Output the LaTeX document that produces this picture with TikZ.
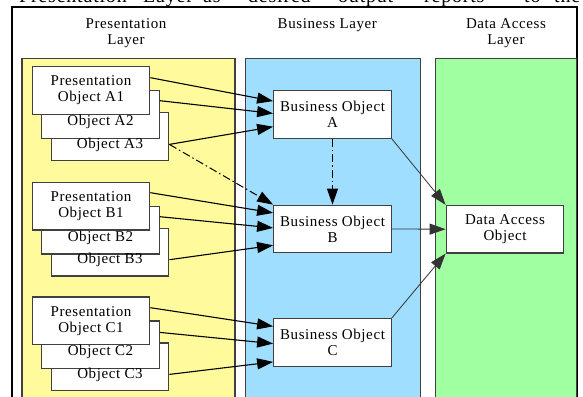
\documentclass[tikz,border=0pt]{standalone}
\usepackage{fontspec}
\setmainfont{Liberation Serif}[LetterSpace=4]
\usetikzlibrary{arrows.meta}
\definecolor{ylw}{RGB}{255,250,155}
\definecolor{blu}{RGB}{160,222,255}
\definecolor{grn}{RGB}{160,255,160}
\definecolor{edgec}{RGB}{64,64,64}
\begin{document}
\begin{tikzpicture}[x=1pt,y=-1pt,
  panel/.style={draw=edgec,line width=1.2pt},
  obj/.style={draw=edgec,fill=white,line width=1.2pt,minimum width=117.6pt,minimum height=47.6pt,inner sep=0pt,align=center,font=\fontsize{15}{16}\selectfont},
  lbl/.style={inner sep=0pt,align=center,font=\fontsize{15}{16.5}\selectfont},
  toptxt/.style={inner sep=0pt,font=\fontsize{20}{22}\selectfont},
  arr/.style={line width=1.1pt,-{Triangle[length=16pt,width=11pt]}},
  daoarr/.style={draw=black!80,line width=0.8pt,-{Triangle[length=16pt,width=11pt]}},
  dd/.style={line width=1pt,dash pattern=on 8pt off 3pt on 1.5pt off 3pt}
]
\useasboundingbox (0,0) rectangle (583,396);
\clip (0,0) rectangle (583,396);
\fill[white] (0,0) rectangle (583,396);
% cut-off text line at top
\node[toptxt,anchor=base east] (t1) at (127,3) {Presentation};
\node[toptxt,anchor=base west] (t2) at (143,3) {Layer};
\node[toptxt,anchor=base west] (t3) at (203,3) {as};
\node[toptxt,anchor=base west] (t4) at (248,3) {desired};
\node[toptxt,anchor=base west] (t5) at (338,3) {output};
\node[toptxt,anchor=base west] (t6) at (424,3) {reports};
\node[toptxt,anchor=base west] (t7) at (524,3) {to};
\node[toptxt,anchor=base west] (t8) at (554,3) {the};
% frame
\draw[line width=1.2pt] (12,400) -- (12,7) -- (577,7) -- (577,400);
% panels
\draw[panel,fill=ylw] (22,58.3) rectangle (235,400);
\draw[panel,fill=blu] (245.6,58.3) rectangle (420.7,400);
\draw[panel,fill=grn] (435.7,58.3) rectangle (576.7,400);
% titles
\node[lbl] (h1) at (126,33.4) {Presentation\\Layer};
\node[lbl] (h2) at (327.3,25) {Business Layer};
\node[lbl] (h3) at (506,33.4) {Data Access\\Layer};
% business objects
\node[obj] (bA) at (332.5,114.5) {Business Object\\A};
\node[obj] (bB) at (332.5,229) {Business Object\\B};
\node[obj] (bC) at (332.5,342.3) {Business Object\\C};
\node[obj] (dao) at (505,229.2) {Data Access\\Object};
% presentation groups
\foreach \g/\b in {A/66.7,B/182.3,C/297}{
  \node[obj] (p\g3) at (110,\b+69.8) {};
  \node[obj] (p\g2) at (100.5,\b+47.8) {};
  \node[obj] (p\g1) at (91,\b+23.8) {Presentation\\Object \g1};
  \node[lbl] (p\g2t) at (100.5,\b+55.2) {Object \g2};
  \node[lbl] (p\g3t) at (110,\b+78) {Object \g3};
}
% arrows group A
\draw[arr] ([yshift=-11.6pt]pA1.north east) -- ([yshift=-11pt]bA.north west);
\draw[arr] ([yshift=-10.6pt]pA2.north east) -- ([yshift=-23.3pt]bA.north west);
\draw[arr] ([yshift=-32.3pt]pA3.north east) -- ([yshift=-36.6pt]bA.north west);
% group B
\draw[arr] ([yshift=-11pt]pB1.north east) -- ([yshift=-8.3pt]bB.north west);
\draw[arr] ([yshift=-11pt]pB2.north east) -- ([yshift=-23.3pt]bB.north west);
\draw[arr] ([yshift=-32pt]pB3.north east) -- ([yshift=-40.7pt]bB.north west);
% group C
\draw[arr] ([yshift=-11.3pt]pC1.north east) -- ([yshift=-8.4pt]bC.north west);
\draw[arr] ([yshift=-12pt]pC2.north east) -- ([yshift=-25.7pt]bC.north west);
\draw[arr] ([yshift=-32pt]pC3.north east) -- ([yshift=-44pt]bC.north west);
% dash-dot
\draw[arr,dd] ([yshift=-32.3pt]pA3.north east) -- (bB.north west);
\draw[arr,dd] (bA.south) -- (bB.north);
% to data access
\draw[daoarr] (bA.south east) -- (dao.north west);
\draw[daoarr] (bB.east) -- (dao.west);
\draw[daoarr] (bC.north east) -- (dao.south west);
\end{tikzpicture}
\end{document}
